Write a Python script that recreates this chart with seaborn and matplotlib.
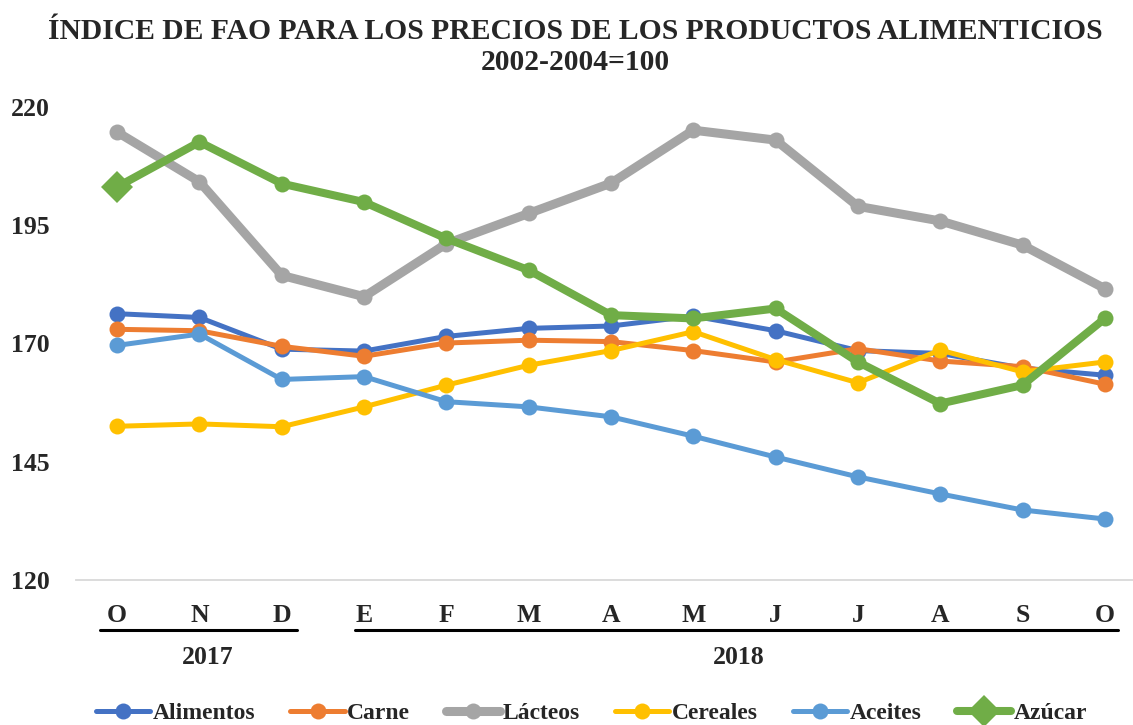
import numpy as np
import pandas as pd
import matplotlib
matplotlib.use("Agg")
import matplotlib.pyplot as plt
import matplotlib.transforms as mtransforms
from matplotlib.lines import Line2D
import seaborn as sns

# Datos (Oct 2017 - Oct 2018)
meses = ["O", "N", "D", "E", "F", "M", "A", "M", "J", "J", "A", "S", "O"]
alimentos = [176.3, 175.5, 168.8, 168.4, 171.5, 173.2, 173.7, 175.8, 172.7, 168.5, 167.9, 164.8, 163.3]
carne = [173.0, 172.7, 169.4, 167.3, 170.1, 170.7, 170.4, 168.5, 166.1, 168.9, 166.3, 165.1, 161.4]
lacteos = [214.7, 204.2, 184.4, 179.9, 191.1, 197.5, 203.9, 215.1, 213.0, 199.0, 195.9, 190.8, 181.6]
cereales = [152.5, 153.0, 152.4, 156.6, 161.2, 165.4, 168.5, 172.5, 166.6, 161.7, 168.6, 164.0, 166.1]
aceites = [169.6, 172.0, 162.4, 163.0, 157.7, 156.6, 154.5, 150.4, 146.0, 141.8, 138.2, 134.8, 132.9]
azucar = [203.1, 212.6, 203.8, 199.9, 192.2, 185.5, 176.0, 175.3, 177.4, 166.1, 157.3, 161.2, 175.3]

series = {
    "Alimentos": alimentos,
    "Carne": carne,
    "Lácteos": lacteos,
    "Cereales": cereales,
    "Aceites": aceites,
    "Azúcar": azucar,
}
colores = {
    "Alimentos": "#4472C4",
    "Carne": "#ED7D31",
    "Lácteos": "#A5A5A5",
    "Cereales": "#FFC000",
    "Aceites": "#5B9BD5",
    "Azúcar": "#70AD47",
}
grosor = {"Alimentos": 3.6, "Carne": 3.6, "Lácteos": 6.5, "Cereales": 3.6, "Aceites": 3.6, "Azúcar": 5.8}

df = pd.DataFrame(
    [(i, nombre, v) for nombre, vals in series.items() for i, v in enumerate(vals)],
    columns=["pos", "serie", "valor"],
)

sns.set_theme(style="white")
plt.rcParams["font.family"] = ["Liberation Serif", "DejaVu Serif"]
plt.rcParams["font.weight"] = "bold"

fig = plt.figure(figsize=(11.33, 7.25), dpi=100)
ax = fig.add_axes([76 / 1133, 1 - 580 / 725, 1070 / 1133, 473 / 725])

for nombre in series:
    sub = df[df["serie"] == nombre]
    sns.lineplot(data=sub, x="pos", y="valor", ax=ax, color=colores[nombre],
                 linewidth=grosor[nombre], marker="o", markersize=11.5,
                 markeredgewidth=0, legend=False)

# primer punto de azucar con rombo
ax.plot([0], [azucar[0]], marker="D", markersize=16, color=colores["Azúcar"],
        markeredgewidth=0, linestyle="none", zorder=5)

ax.set_xlim(-0.5, len(meses) - 0.5)
ax.set_ylim(120, 220)
ax.set_yticks(np.arange(120, 221, 25))
ax.set_xticks(range(len(meses)))
ax.set_xticklabels(meses)
ax.set_xticks(np.arange(-0.5, len(meses), 1), minor=True)
ax.set_xlabel("")
ax.set_ylabel("")

ax.tick_params(axis="x", which="major", length=0, pad=17, labelsize=18.5)
ax.tick_params(axis="x", which="minor", length=7, width=1.2, color="#D9D9D9", direction="out")
ax.tick_params(axis="y", length=0, pad=19, labelsize=18.5)
for lab in ax.get_xticklabels() + ax.get_yticklabels():
    lab.set_fontweight("bold")

for s in ["top", "right", "left"]:
    ax.spines[s].set_visible(False)
ax.spines["bottom"].set_color("#D9D9D9")
ax.spines["bottom"].set_linewidth(1.3)
ax.grid(False)

# subrayados y anios
trans = mtransforms.blended_transform_factory(ax.transData, ax.transAxes)
ax.add_line(Line2D([-0.21, 2.19], [-0.106, -0.106], transform=trans, color="black",
                   linewidth=2.2, clip_on=False))
ax.add_line(Line2D([2.89, 12.16], [-0.106, -0.106], transform=trans, color="black",
                   linewidth=2.2, clip_on=False))
ax.text(1.1, -0.163, "2017", transform=trans, ha="center", va="center",
        fontsize=18.5, fontweight="bold")
ax.text(7.55, -0.163, "2018", transform=trans, ha="center", va="center",
        fontsize=18.5, fontweight="bold")

fig.text(0.508, 1 - 47 / 725, "ÍNDICE DE FAO PARA LOS PRECIOS DE LOS PRODUCTOS ALIMENTICIOS\n2002-2004=100",
         ha="center", va="center", fontsize=21.3, fontweight="bold", linespacing=1.22)

handles = []
for nombre in series:
    mk = "D" if nombre == "Azúcar" else "o"
    ms = 16 if nombre == "Azúcar" else 11.5
    handles.append(Line2D([0], [0], color=colores[nombre], linewidth=grosor[nombre],
                          marker=mk, markersize=ms, markeredgewidth=0, label=nombre))
fig.legend(handles=handles, loc="center", bbox_to_anchor=(0.522, 0.016), ncol=6,
           frameon=False, prop={"size": 17, "weight": "bold"}, handlelength=2.3,
           handletextpad=0.1, columnspacing=1.5, borderaxespad=0)

fig.savefig("out.png", dpi=100)
